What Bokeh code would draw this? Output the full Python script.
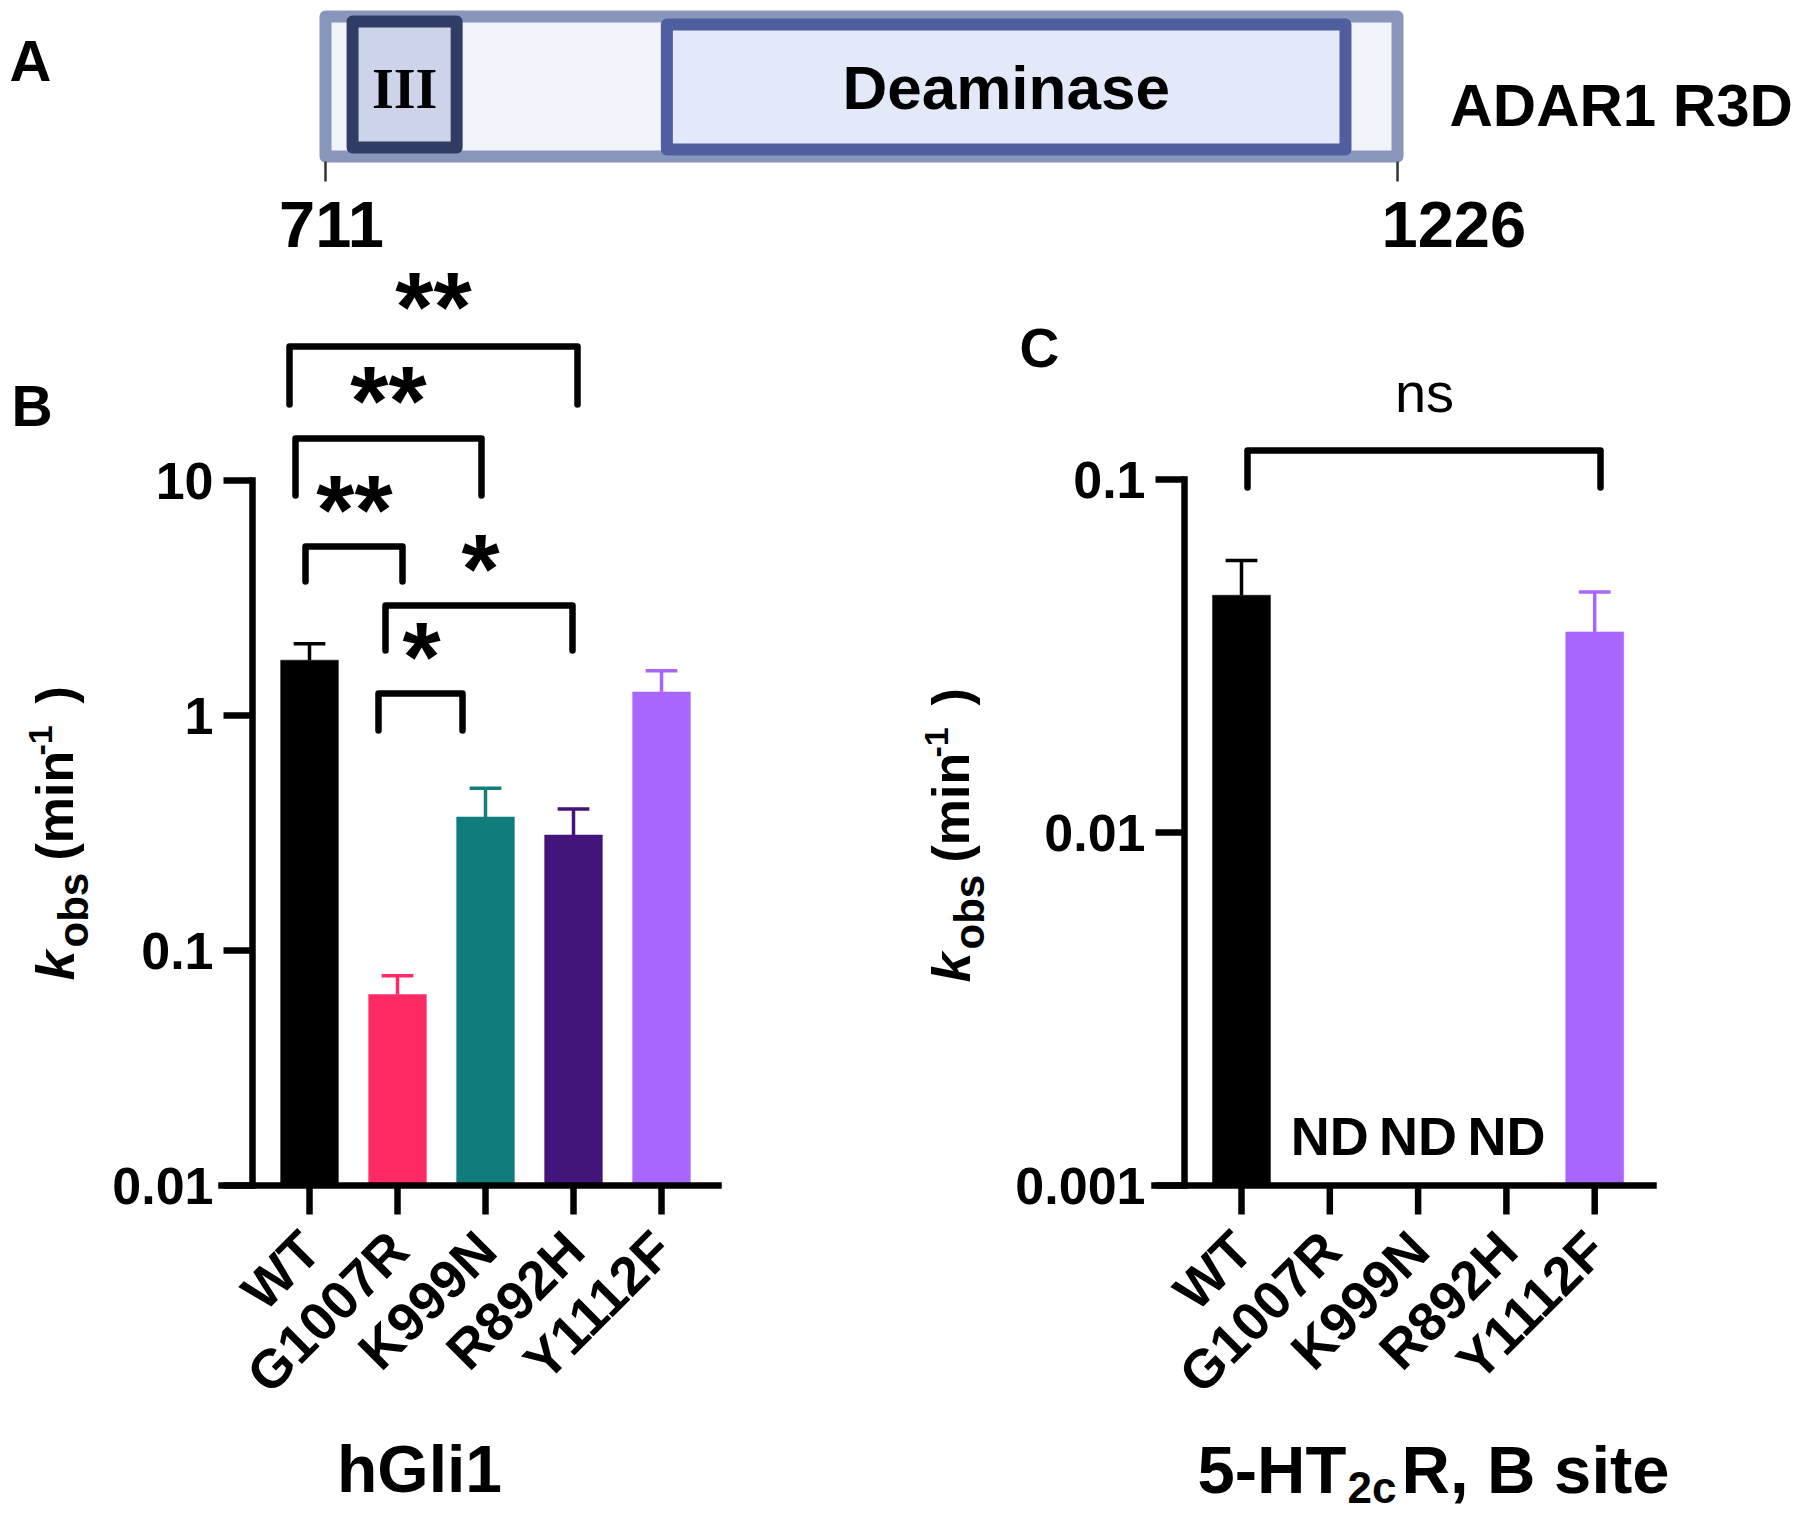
import math
from bokeh.plotting import figure
from bokeh.models import Range1d, ColumnDataSource
from bokeh.core.properties import value
from bokeh.embed import file_html
from bokeh.resources import INLINE

# ------------------------------------------------------------------ data
mutants = ["WT", "G1007R", "K999N", "R892H", "Y1112F"]
bar_colors = ["#000000", "#ff2a64", "#117c7c", "#42157a", "#a866fe"]

kobs_hgli1 = [1.72, 0.065, 0.37, 0.31, 1.26]          # min^-1
sem_hgli1 = [0.30, 0.013, 0.12, 0.09, 0.29]
yticks_hgli1 = [0.01, 0.1, 1, 10]

kobs_5ht2c = [0.047, None, None, None, 0.037]         # None = ND
sem_5ht2c = [0.012, None, None, None, 0.011]
yticks_5ht2c = [0.001, 0.01, 0.1]

sig_hgli1 = [("WT", "R892H", "**"), ("WT", "K999N", "**"), ("WT", "G1007R", "**"),
             ("G1007R", "R892H", "*"), ("G1007R", "K999N", "*")]
sig_5ht2c = [("WT", "Y1112F", "ns")]

construct_span = [711, 1226]
domain_names = ["III", "Deaminase"]
domain_start = [724, 875]
domain_end = [774, 1201]

# ------------------------------------------------------------------ layout (page px)
FONT = "Liberation Sans"
PAGE_W, PAGE_H = 1800, 1515
XAXIS_PX = 1185
TICK = 29
LW = 6.5
BL = 0.35   # text baseline correction (fraction of font size)

# bracket layout: (left px, right px, top px, leg px, label x px, label baseline px)
brk_hgli1 = [(289, 577, 346, 404, 433, 341), (295, 481, 438, 495, 388, 435),
             (305, 402, 546, 581, 354, 544), (385, 572, 605, 650, 480, 603),
             (378, 462, 693, 730, 421, 691)]
brk_5ht2c = [(1247, 1600, 450, 487, 1424, 412)]


class PanelMap:
    """page pixel -> panel data (x: category index, y: log10 k_obs)"""
    def __init__(self, c0, sp, ref_px, ref_log, dec):
        self.c0, self.sp, self.ref_px, self.ref_log, self.dec = c0, sp, ref_px, ref_log, dec

    def x(self, px):
        return (px - self.c0) / self.sp

    def y(self, py):
        return self.ref_log - (py - self.ref_px) / self.dec


def res(px):
    return 711 + (px - 325) / 2.0816


mB = PanelMap(309, 88, XAXIS_PX, -2, 235)
mC = PanelMap(1241, 88.3, XAXIS_PX, -3, 353)

p = figure(width=PAGE_W, height=PAGE_H, x_range=Range1d(0, PAGE_W),
           y_range=Range1d(PAGE_H, 0), x_axis_location=None, y_axis_location=None,
           min_border=0, toolbar_location=None, output_backend="svg")
p.outline_line_color = None
p.grid.visible = False
p.extra_x_ranges = {"dom": Range1d(res(0), res(PAGE_W)),
                    "B": Range1d(mB.x(0), mB.x(PAGE_W)),
                    "C": Range1d(mC.x(0), mC.x(PAGE_W))}
p.extra_y_ranges = {"B": Range1d(mB.y(PAGE_H), mB.y(0)),
                    "C": Range1d(mC.y(PAGE_H), mC.y(0))}


def ptxt(px, py, s, size, style="bold", align="left", angle=0.0, font=FONT):
    """text whose baseline starts at page (px, py)"""
    ax = px - math.sin(angle) * BL * size
    ay = py - math.cos(angle) * BL * size
    p.text(x=[ax], y=[ay], text=[s], text_font=value(font), text_font_size=f"{size}px",
           text_font_style=style, text_align=align, text_baseline="alphabetic",
           angle=angle, text_color="black")


# ------------------------------------------------------------------ panel A
p.quad(left=[construct_span[0]], right=[construct_span[1]], top=[16], bottom=[156],
       fill_color="#f1f4fb", line_color="#8796ba", line_width=12, line_join="round",
       x_range_name="dom")
p.quad(left=[domain_start[0]], right=[domain_end[0]], top=[21], bottom=[147],
       fill_color="#cdd3e8", line_color="#303c64", line_width=12, line_join="round",
       x_range_name="dom")
p.quad(left=[domain_start[1]], right=[domain_end[1]], top=[24], bottom=[149],
       fill_color="#e3e9f8", line_color="#4f5e9e", line_width=12, line_join="round",
       x_range_name="dom")
p.segment(x0=construct_span, y0=[161, 161], x1=construct_span, y1=[181, 181],
          line_color="#333333", line_width=2.5, x_range_name="dom")


def dtxt(res_x, py, s, size, align="left", font=FONT, x_offset=0):
    p.text(x=[res_x], y=[py - BL * size], text=[s], text_font=value(font),
           text_font_size=f"{size}px", text_font_style="bold", text_align=align,
           text_baseline="alphabetic", x_offset=x_offset, text_color="black",
           x_range_name="dom")


dtxt((domain_start[0] + domain_end[0]) / 2, 108, domain_names[0], 56,
     align="center", font="Liberation Serif")
dtxt((domain_start[1] + domain_end[1]) / 2, 109, domain_names[1], 62, align="center")
dtxt(construct_span[0], 247, str(construct_span[0]), 65, align="center", x_offset=6)
dtxt(construct_span[1], 247, str(construct_span[1]), 65, align="left", x_offset=-16)
ptxt(1449, 126, "ADAR1 R3D", 60)
ptxt(9, 80, "A", 58)


# ------------------------------------------------------------------ bar panels
def bar_panel(nm, m, vals, sems, yticks, yaxis_px, xl_px, xr_px):
    rn = dict(x_range_name=nm, y_range_name=nm)
    lo = math.log10(yticks[0])
    idx = [i for i, v in enumerate(vals) if v is not None]
    src = ColumnDataSource(dict(
        x=idx,
        top=[math.log10(vals[i]) for i in idx],
        err=[math.log10(vals[i] + sems[i]) for i in idx],
        color=[bar_colors[i] for i in idx],
        cl=[i - 0.18 for i in idx], cr=[i + 0.18 for i in idx]))
    p.vbar(x="x", top="top", bottom=lo, width=0.656, fill_color="color",
           line_color="color", line_width=0.5, source=src, **rn)
    p.segment(x0="x", y0="top", x1="x", y1="err", line_color="color",
              line_width=3.5, source=src, **rn)
    p.segment(x0="cl", y0="err", x1="cr", y1="err", line_color="color",
              line_width=3.5, source=src, **rn)

    # y axis (log10 positions, decimal labels)
    exps = [math.log10(t) for t in yticks]
    ax_x = m.x(yaxis_px)
    p.segment(x0=[ax_x], y0=[exps[0]], x1=[ax_x], y1=[exps[-1]], line_color="black",
              line_width=LW, line_cap="square", **rn)
    p.segment(x0=[m.x(yaxis_px - TICK)] * len(exps), y0=exps,
              x1=[ax_x] * len(exps), y1=exps, line_color="black", line_width=LW, **rn)
    p.text(x=[m.x(yaxis_px - TICK - 10)] * len(exps), y=exps,
           text=[f"{t:g}" for t in yticks], text_font=value(FONT), text_font_size="52px",
           text_font_style="bold", text_align="right", text_baseline="alphabetic",
           text_color="black", **rn)

    # x axis (categories)
    cats = list(range(len(mutants)))
    p.segment(x0=[m.x(xl_px)], y0=[lo], x1=[m.x(xr_px)], y1=[lo], line_color="black",
              line_width=LW, line_cap="square", **rn)
    p.segment(x0=cats, y0=[lo] * len(cats), x1=cats,
              y1=[m.y(XAXIS_PX + TICK)] * len(cats), line_color="black",
              line_width=LW, **rn)
    p.text(x=[c + 1 / m.sp for c in cats], y=[m.y(1240)] * len(cats), text=mutants,
           text_font=value(FONT), text_font_size="54px", text_font_style="bold",
           text_align="right", text_baseline="alphabetic", angle=math.pi / 4,
           text_color="black", **rn)


def bracket_lines(brks):
    for (xl, xr, yt, yl, lx, lb) in brks:
        p.multi_line(xs=[[xl, xl, xr, xr]], ys=[[yl, yt, yt, yl]],
                     line_color="black", line_width=LW,
                     line_join="round", line_cap="round")


def ylabel(bx, b0):
    # k_obs (min^-1), rotated; bx = baseline x, b0 = bottom start y (page px)
    r = math.pi / 2
    ptxt(bx, b0, "k", 54, style="bold italic", angle=r)
    ptxt(bx + 15, b0 - 33, "obs", 42, angle=r)
    ptxt(bx, b0 - 120, "(min", 52, angle=r)
    ptxt(bx - 21, b0 - 225, "-1", 34, angle=r)
    ptxt(bx, b0 - 277, ")", 52, angle=r)


# panel B
bar_panel("B", mB, kobs_hgli1, sem_hgli1, yticks_hgli1, 252, 221, 718)
bracket_lines(brk_hgli1)
ptxt(11, 425, "B", 57)
ylabel(73, 980)
ptxt(419, 1492, "hGli1", 66, align="center")

# panel C
bar_panel("C", mC, kobs_5ht2c, sem_5ht2c, yticks_5ht2c, 1184, 1154, 1653)
bracket_lines(brk_5ht2c)
for (a, b, s), (xl, xr, yt, yl, lx, lb) in zip(sig_5ht2c, brk_5ht2c):
    ptxt(lx, lb, s, 56, style="normal", align="center")
nd = [i for i, v in enumerate(kobs_5ht2c) if v is None]
p.text(x=nd, y=[1154 - BL * 54] * len(nd), text=["ND"] * len(nd), text_font=value(FONT),
       text_font_size="54px", text_font_style="bold", text_align="center",
       text_baseline="alphabetic", text_color="black", x_range_name="C")
ptxt(1019, 367, "C", 55)
ylabel(969, 982)
ptxt(1197, 1492, "5-HT", 67)
ptxt(1347, 1502, "2c", 44)
ptxt(1401, 1492, "R, B site", 67)

# significance asterisks (font size kept below 100px)
for (a, b, s), (xl, xr, yt, yl, lx, lb) in zip(sig_hgli1, brk_hgli1):
    ptxt(lx, lb, s, 98, align="center")

open("out.html", "w").write(file_html(p, INLINE))
